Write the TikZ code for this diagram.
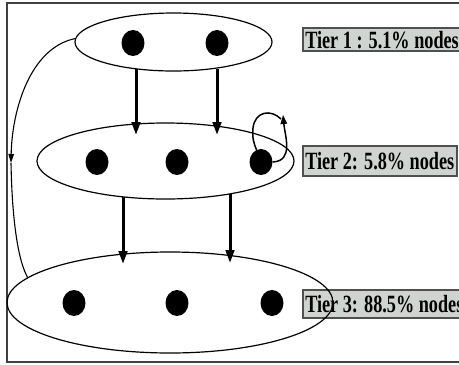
\documentclass[tikz,border=0pt]{standalone}
\usepackage{graphicx}
\usepackage{fontspec}
\setmainfont{Liberation Serif}
\usetikzlibrary{shapes.geometric,arrows.meta}
\definecolor{boxfill}{HTML}{D0D4D0}
\definecolor{boxline}{HTML}{505050}
\definecolor{framecol}{HTML}{404040}
\newcommand{\tiertext}[1]{\scalebox{0.735}[1]{\fontsize{24.8}{25}\selectfont\bfseries #1}}
\begin{document}
\begin{tikzpicture}[x=1pt,y=-1pt,
  tier/.style={draw,line width=1.2pt,ellipse,inner sep=0pt},
  dot/.style={fill=black,ellipse,inner sep=0pt,minimum width=23,minimum height=26},
  flow/.style={line width=3pt,-{Triangle[length=13pt,width=8.5pt]}},
  thinline/.style={line width=1.1pt},
  loopline/.style={line width=1.5pt},
  labelbox/.style={draw=boxline,fill=boxfill,line width=1.5pt,inner xsep=2.5pt,inner ysep=0pt,anchor=west}]
\useasboundingbox (0,0) rectangle (459,365);
\clip (0,0) rectangle (459,365);
% frame
\draw[framecol,line width=2pt] (7,2.5) rectangle (490,362);
% labels
\node[labelbox,minimum height=23] (L1) at (302,39.7) {\tiertext{Tier 1 : 5.1\% nodes}};
\node[labelbox,minimum height=30] (L2) at (302,161) {\tiertext{Tier 2: 5.8\% nodes}};
\node[labelbox,minimum height=28] (L3) at (302,304) {\tiertext{Tier 3: 88.5\% nodes}};
% tiers
\node[tier,minimum width=197,minimum height=58] (E1) at (173.5,42) {};
\node[tier,minimum width=257,minimum height=76] (E2) at (165.5,161) {};
\node[tier,minimum width=326,minimum height=101] (E3) at (170,302.5) {};
% dots
\node[dot] (d11) at (133,43) {};
\node[dot] (d12) at (217,43) {};
\node[dot] (d21) at (97,162) {};
\node[dot] (d22) at (177,162) {};
\node[dot] (d23) at (261,162) {};
\node[dot] (d31) at (74,303) {};
\node[dot] (d32) at (177,303) {};
\node[dot] (d33) at (272,303) {};
% flow arrows
\coordinate (a1s) at (136,69);
\coordinate (a1e) at (136,135);
\coordinate (a2s) at (217,69);
\coordinate (a2e) at (217,135);
\coordinate (a3s) at (123,197);
\coordinate (a3e) at (123,264);
\coordinate (a4s) at (230,194);
\coordinate (a4e) at (230,263);
\draw[flow] (a1s) -- (a1e);
\draw[flow] (a2s) -- (a2e);
\draw[flow] (a3s) -- (a3e);
\draw[flow] (a4s) -- (a4e);
% left return curve
\coordinate (lm) at (11,163);
\draw[thinline,-{Triangle[length=9pt,width=5.5pt]}] (E1.178) .. controls (30,48) and (12,110) .. (lm);
\draw[thinline] (lm) .. controls (12,215) and (17,258) .. (E3.170);
% self loop
\coordinate (lt) at (283,115);
\coordinate (lt2) at (281,119);
\draw[loopline,-{Triangle[length=9pt,width=6.5pt]}] (d23.east) .. controls (294,161) and (285,136) .. (lt);
\draw[loopline] (lt2) .. controls (271,109) and (255,111) .. (253,128) .. controls (252,138) and (254,144) .. (d23.110);
\end{tikzpicture}
\end{document}
